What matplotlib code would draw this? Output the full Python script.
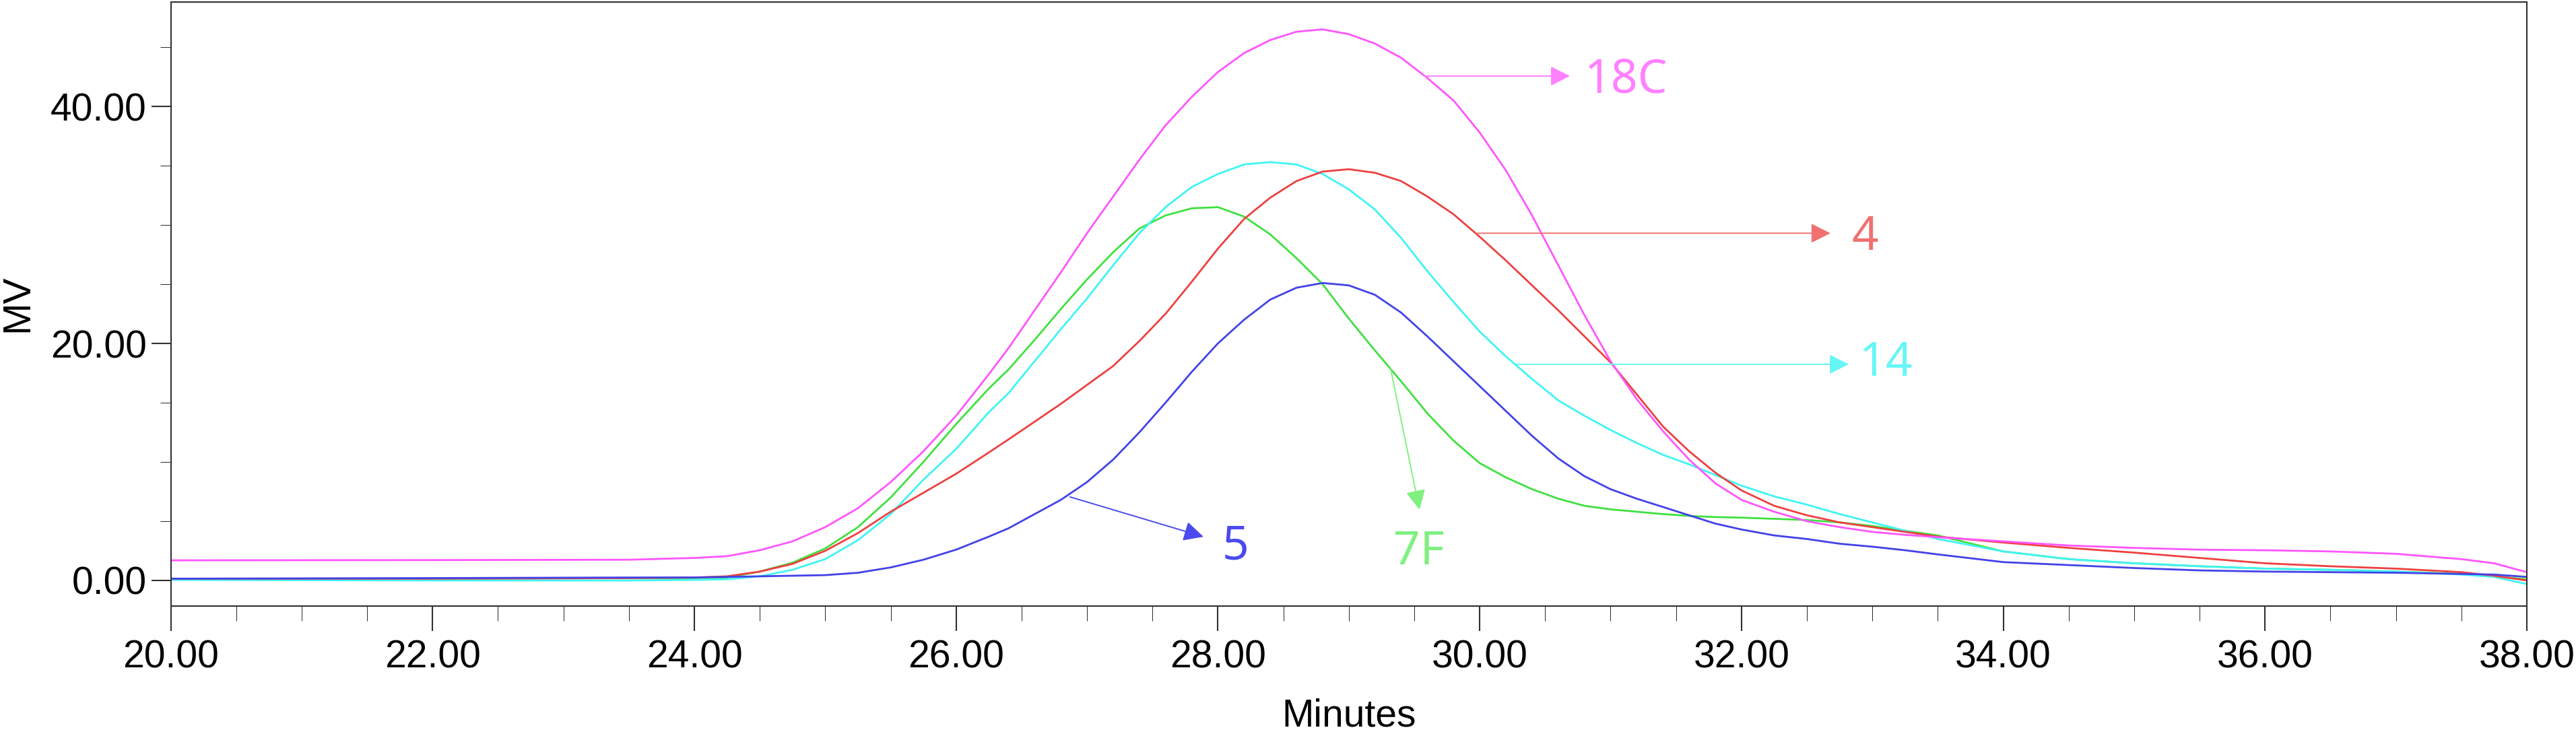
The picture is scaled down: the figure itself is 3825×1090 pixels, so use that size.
import matplotlib
matplotlib.use('Agg')
import matplotlib.pyplot as plt
from matplotlib.ticker import MultipleLocator, FormatStrFormatter

# retention time grid (minutes)
minutes = [20.0, 22.0, 23.5, 24.0, 24.25, 24.5, 24.75, 25.0, 25.25, 25.5,
           25.75, 26.0, 26.25,
           26.4, 26.6, 26.8, 27.0, 27.2, 27.4, 27.6, 27.8, 28.0, 28.2,
           28.4, 28.6, 28.8, 29.0, 29.2, 29.4, 29.6, 29.8, 30.0, 30.2,
           30.4, 30.6, 30.8, 31.0, 31.2, 31.4, 31.6, 31.8, 32.0,
           32.25, 32.5, 32.75, 33.0, 33.25, 33.5, 34.0, 34.5, 35.0, 35.5,
           36.0, 36.5, 37.0, 37.5, 37.75, 38.0]

mv_18c = [1.70, 1.72, 1.75, 1.90, 2.05, 2.55, 3.3, 4.5, 6.1, 8.3,
          10.9, 13.9, 17.4,
          19.6, 22.8, 26.0, 29.3, 32.4, 35.5, 38.4, 40.8, 42.9, 44.5,
          45.6, 46.3, 46.5, 46.1, 45.3, 44.1, 42.4, 40.5, 37.8, 34.6,
          30.8, 26.6, 22.4, 18.5, 15.3, 12.6, 10.2, 8.2, 6.8,
          5.8, 5.0, 4.5, 4.1, 3.85, 3.65, 3.3, 2.95, 2.75, 2.6,
          2.55, 2.45, 2.25, 1.8, 1.45, 0.7]

mv_4 = [0.15, 0.15, 0.2, 0.25, 0.35, 0.75, 1.4, 2.5, 4.0, 5.8,
        7.4, 9.0, 10.8,
        11.9, 13.4, 14.9, 16.5, 18.1, 20.2, 22.5, 25.2, 28.0, 30.5,
        32.3, 33.7, 34.5, 34.7, 34.4, 33.7, 32.4, 30.9, 29.0, 27.0,
        24.9, 22.8, 20.6, 18.4, 15.7, 13.0, 10.9, 9.1, 7.6,
        6.3, 5.5, 4.9, 4.5, 4.1, 3.7, 3.2, 2.75, 2.35, 1.9,
        1.45, 1.2, 1.0, 0.7, 0.4, 0.0]

mv_14 = [0.05, 0.0, 0.0, 0.05, 0.1, 0.35, 0.9, 1.8, 3.4, 5.6,
         8.5, 11.1, 14.2,
         15.8, 18.5, 21.2, 23.8, 26.6, 29.3, 31.5, 33.2, 34.3, 35.1,
         35.3, 35.1, 34.3, 33.0, 31.3, 28.9, 26.1, 23.5, 21.0, 18.9,
         17.0, 15.2, 13.9, 12.7, 11.6, 10.6, 9.8, 8.9, 8.0,
         7.1, 6.4, 5.6, 4.9, 4.2, 3.5, 2.45, 1.8, 1.45, 1.2,
         1.0, 0.9, 0.75, 0.5, 0.3, -0.3]

mv_7f = [0.15, 0.15, 0.2, 0.2, 0.25, 0.75, 1.5, 2.7, 4.5, 7.0,
         10.0, 13.2, 16.2,
         17.8, 20.3, 22.9, 25.4, 27.7, 29.7, 30.8, 31.4, 31.5, 30.7,
         29.2, 27.2, 25.0, 22.1, 19.4, 16.8, 14.1, 11.8, 9.9, 8.7,
         7.7, 6.9, 6.3, 6.0, 5.8, 5.6, 5.45, 5.35, 5.3,
         5.2, 5.1, 4.9, 4.6, 4.2, 3.8, 2.45, 1.8, 1.45, 1.2,
         1.0, 0.9, 0.75, 0.55, 0.35, 0.1]

mv_5 = [0.15, 0.2, 0.25, 0.25, 0.3, 0.35, 0.4, 0.45, 0.65, 1.1,
        1.75, 2.6, 3.7,
        4.4, 5.6, 6.8, 8.3, 10.2, 12.5, 15.0, 17.6, 20.0, 22.0,
        23.7, 24.7, 25.1, 24.9, 24.1, 22.6, 20.6, 18.5, 16.4, 14.3,
        12.2, 10.3, 8.8, 7.7, 6.9, 6.2, 5.5, 4.8, 4.3,
        3.8, 3.5, 3.1, 2.85, 2.55, 2.2, 1.55, 1.3, 1.05, 0.85,
        0.75, 0.7, 0.65, 0.55, 0.5, 0.3]

fig = plt.figure(figsize=(38.25, 10.9), dpi=100)
ax = fig.add_axes([0.0663, 0.1743, 0.9146, 0.8225])

lw = 2.0
ax.plot(minutes, mv_7f, color='#40E040', lw=lw)
ax.plot(minutes, mv_14, color='#40F4F4', lw=lw)
ax.plot(minutes, mv_4, color='#EE4040', lw=lw)
ax.plot(minutes, mv_5, color='#4242E8', lw=lw)
ax.plot(minutes, mv_18c, color='#FF55FF', lw=lw)

# labels with arrows: (text, arrow start, arrow tip, text pos, colour)
notes = [
    ('18C', (29.58, 42.56), (30.69, 42.56), (30.80, 42.2), '#FF80FF'),
    ('4', (29.97, 29.3), (32.68, 29.3), (32.84, 28.9), '#F07070'),
    ('14', (30.28, 18.24), (32.82, 18.24), (32.90, 18.3), '#66F6F6'),
    ('5', (26.87, 7.05), (27.89, 3.69), (28.03, 2.84), '#4A4AEE'),
    ('7F', (29.32, 17.84), (29.54, 5.97), (29.34, 2.39), '#80F080'),
]
for txt, start, tip, pos, col in notes:
    ax.annotate('', xy=tip, xytext=start,
                arrowprops=dict(arrowstyle='-|>,head_length=0.4,head_width=0.2',
                                color=col, lw=1.4, mutation_scale=45,
                                shrinkA=0, shrinkB=0))
    ax.text(pos[0], pos[1], txt, color=col, fontsize=50,
            family='Noto Sans', ha='left', va='center')

ax.set_xlim(20, 38)
ax.set_ylim(-2.16, 48.78)

ax.xaxis.set_major_locator(MultipleLocator(2))
ax.xaxis.set_minor_locator(MultipleLocator(0.5))
ax.yaxis.set_major_locator(MultipleLocator(20))
ax.yaxis.set_minor_locator(MultipleLocator(5))
ax.xaxis.set_major_formatter(FormatStrFormatter('%.2f'))
ax.yaxis.set_major_formatter(FormatStrFormatter('%.2f'))

tick_font = {'family': 'Liberation Sans', 'size': 41}
for lab in ax.get_xticklabels() + ax.get_yticklabels():
    lab.set_fontfamily('Liberation Sans')
ax.tick_params(axis='both', labelsize=41, color='#303030', width=1.5)
ax.tick_params(axis='x', which='major', length=26.6, pad=9)
ax.tick_params(axis='x', which='minor', length=15.8)
ax.tick_params(axis='y', which='major', length=20.9, pad=5)
ax.tick_params(axis='y', which='minor', length=11.5)

for sp in ax.spines.values():
    sp.set_linewidth(1.5)
    sp.set_color('#303030')

ax.set_xlabel('Minutes', fontdict=tick_font)
ax.xaxis.set_label_coords(0.5, -0.182)
ax.xaxis.label.set_va('center')
ax.set_ylabel('MV', fontdict=tick_font)
ax.yaxis.set_label_coords(-0.065, 0.502)
ax.yaxis.label.set_va('center')
ax.yaxis.label.set_ha('center')

fig.savefig('out.png', dpi=100)
